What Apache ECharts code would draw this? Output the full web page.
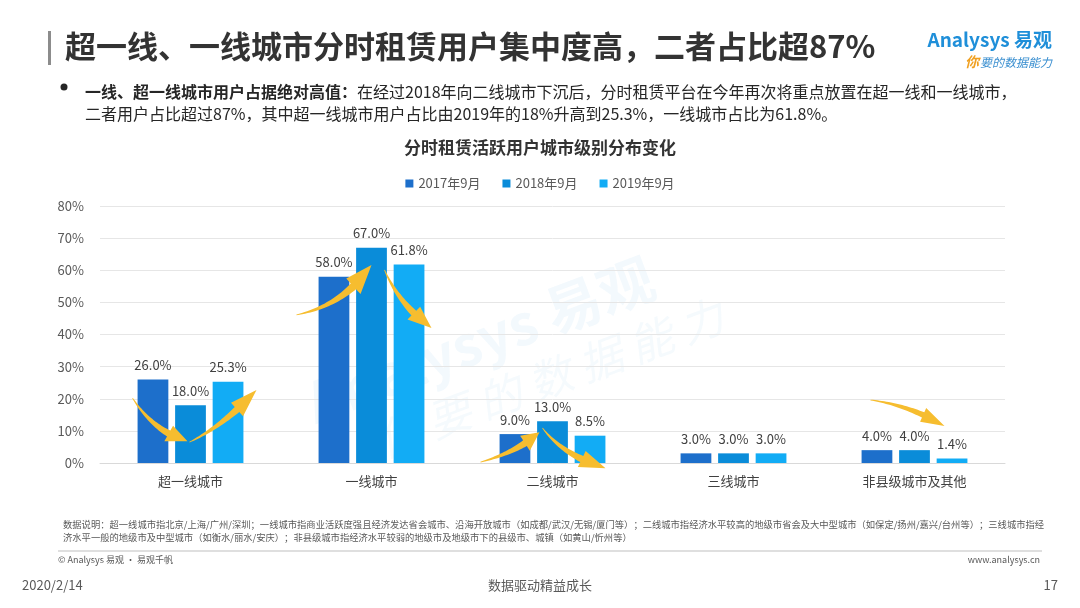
<!DOCTYPE html>
<html>
<head>
<meta charset="utf-8">
<script src="https://cdn.jsdelivr.net/npm/echarts@6/dist/echarts.min.js"></script>
<style>
  html, body { margin: 0; padding: 0; background: #fff; }
  #main { width: 1080px; height: 608px; }
</style>
</head>
<body>
<div id="main"></div>
<script>
// 数据
const categories = ['超一线城市', '一线城市', '二线城市', '三线城市', '非县级城市及其他']
const seriesNames = ['2017年9月', '2018年9月', '2019年9月']
const data2017 = [26.0, 58.0, 9.0, 3.0, 4.0]
const data2018 = [18.0, 67.0, 13.0, 3.0, 4.0]
const data2019 = [25.3, 61.8, 8.5, 3.0, 1.4]
const colors = ['#1d6fcb', '#0a8cd9', '#12acf5']

const FONT = '"Noto Sans CJK SC", "Microsoft YaHei", sans-serif'

let myChart = echarts.init(document.querySelector('#main'))

function barSeries(name, data, color) {
    return {
        name: name,
        type: 'bar',
        data: data,
        barWidth: '17%',
        barGap: '22%',
        itemStyle: { color: color },
        label: {
            show: true,
            position: 'top',
            distance: 8,
            formatter: p => p.value.toFixed(1) + '%',
            color: '#404040',
            fontSize: 13,
            fontFamily: FONT
        }
    }
}

const option = {
    animation: false,
    textStyle: { fontFamily: FONT },
    title: [
        {
            text: '超一线、一线城市分时租赁用户集中度高，二者占比超87%',
            left: 60, top: 26,
            textStyle: { fontSize: 31, fontWeight: 'bold', color: '#333', fontFamily: FONT }
        },
        {
            text: '{b|一线、超一线城市用户占据绝对高值：}{n|在经过2018年向二线城市下沉后，分时租赁平台在今年再次将重点放置在超一线和一线城市，}\n{n|二者用户占比超过87%，其中超一线城市用户占比由2019年的18%升高到25.3%，一线城市占比为61.8%。}',
            left: 80, top: 76,
            textStyle: {
                fontWeight: 'normal',
                rich: {
                    b: { fontSize: 16, fontWeight: 'bold', color: '#262626', fontFamily: FONT, lineHeight: 22 },
                    n: { fontSize: 16, fontWeight: 'normal', color: '#262626', fontFamily: FONT, lineHeight: 22 }
                }
            }
        },
        {
            text: '分时租赁活跃用户城市级别分布变化',
            left: 'center', top: 134,
            textStyle: { fontSize: 17, fontWeight: 'bold', color: '#333', fontFamily: FONT }
        },
        {
            text: '数据说明：超一线城市指北京/上海/广州/深圳；一线城市指商业活跃度强且经济发达省会城市、沿海开放城市（如成都/武汉/无锡/厦门等）；二线城市指经济水平较高的地级市省会及大中型城市（如保定/扬州/嘉兴/台州等）；三线城市指经\n济水平一般的地级市及中型城市（如衡水/丽水/安庆）；非县级城市指经济水平较弱的地级市及地级市下的县级市、城镇（如黄山/忻州等）',
            left: 58, top: 513,
            textStyle: { fontSize: 9.3, color: '#595959', fontFamily: FONT, lineHeight: 13, fontWeight: 'normal' }
        }
    ],
    legend: {
        data: seriesNames,
        top: 172,
        left: 'center',
        icon: 'rect',
        itemWidth: 8,
        itemHeight: 8,
        itemGap: 22,
        textStyle: { fontSize: 13, color: '#595959', fontFamily: FONT }
    },
    grid: {
        left: 100,
        right: 75,
        top: 206,
        bottom: 145
    },
    xAxis: {
        type: 'category',
        data: categories,
        axisTick: { show: false },
        axisLine: { lineStyle: { color: '#d9d9d9' } },
        axisLabel: { color: '#404040', fontSize: 13, margin: 12, fontFamily: FONT }
    },
    yAxis: {
        type: 'value',
        min: 0,
        max: 80,
        interval: 10,
        axisLabel: { formatter: '{value}%', color: '#595959', fontSize: 13, margin: 16, fontFamily: FONT },
        splitLine: { lineStyle: { color: '#e6e6e6' } },
        axisLine: { show: false },
        axisTick: { show: false }
    },
    series: [
        barSeries(seriesNames[0], data2017, colors[0]),
        barSeries(seriesNames[1], data2018, colors[1]),
        barSeries(seriesNames[2], data2019, colors[2])
    ]
}

myChart.setOption(option)

// 黄色箭头：[类目, 起点dx, 起点值, 控制dx, 控制值, 终点dx, 终点值, 宽]
const arrows = [
    [0, -58, 20.2, -36, 9.6, -3, 6.8, 6],
    [0, -1, 6.5, 34, 11.8, 66, 22.7, 6],
    [1, -75, 46.1, -27, 49.2, 0, 61.6, 7],
    [1, 13, 60.1, 28, 49.2, 60, 42.0, 6],
    [2, -72, 0.3, -35, 3.4, -13, 9.6, 6],
    [2, -10, 10.9, 10, 2.5, 53, -1.6, 6],
    [4, -44, 19.6, -5, 18.0, 30, 11.5, 5]
]

function toPx(cat, dx, val) {
    const p = myChart.convertToPixel({ gridIndex: 0 }, [cat, val])
    return [p[0] + dx, p[1]]
}

function arrowPoints(p0, c, p1, w) {
    const bez = t => [
        (1 - t) * (1 - t) * p0[0] + 2 * (1 - t) * t * c[0] + t * t * p1[0],
        (1 - t) * (1 - t) * p0[1] + 2 * (1 - t) * t * c[1] + t * t * p1[1]
    ]
    const der = t => [
        2 * (1 - t) * (c[0] - p0[0]) + 2 * t * (p1[0] - c[0]),
        2 * (1 - t) * (c[1] - p0[1]) + 2 * t * (p1[1] - c[1])
    ]
    const tHead = 0.7
    const N = 24
    const left = [], right = []
    let last, nrm
    for (let i = 0; i <= N; i++) {
        const t = tHead * i / N
        const pt = bez(t)
        const d = der(t)
        const len = Math.hypot(d[0], d[1]) || 1
        nrm = [-d[1] / len, d[0] / len]
        const hw = 0.4 + w * 0.5 * (i / N)
        left.push([pt[0] + nrm[0] * hw, pt[1] + nrm[1] * hw])
        right.push([pt[0] - nrm[0] * hw, pt[1] - nrm[1] * hw])
        last = pt
    }
    const hw2 = w * 1.5
    const head = [
        [last[0] + nrm[0] * hw2, last[1] + nrm[1] * hw2],
        p1,
        [last[0] - nrm[0] * hw2, last[1] - nrm[1] * hw2]
    ]
    return left.concat(head, right.reverse())
}

const graphics = []

// 水印
graphics.push({
    type: 'text', x: 480, y: 340, rotation: 0.36, silent: true, z: -1,
    style: { text: 'Analysys 易观', font: 'bold 56px ' + FONT, fill: 'rgba(20,140,215,0.05)', textAlign: 'center', textVerticalAlign: 'middle' }
})
graphics.push({
    type: 'text', x: 550, y: 378, rotation: 0.36, silent: true, z: -1,
    style: { text: '你 要 的 数 据 能 力', font: 'italic 44px ' + FONT, fill: 'rgba(20,140,215,0.045)', textAlign: 'center', textVerticalAlign: 'middle' }
})

arrows.forEach(a => {
    const p0 = toPx(a[0], a[1], a[2])
    const c = toPx(a[0], a[3], a[4])
    const p1 = toPx(a[0], a[5], a[6])
    graphics.push({
        type: 'polygon',
        silent: true,
        z: 100,
        shape: { points: arrowPoints(p0, c, p1, a[7]) },
        style: { fill: '#f6bd2f' }
    })
})

// 标题左侧竖线
graphics.push({ type: 'rect', shape: { x: 48, y: 31, width: 3, height: 34 }, style: { fill: '#8c8c8c' } })
// 项目符号
graphics.push({ type: 'circle', shape: { cx: 64, cy: 87, r: 3.5 }, style: { fill: '#262626' } })

// Logo
graphics.push({
    type: 'text', x: 1052, y: 40,
    style: { text: 'Analysys 易观', font: 'bold 19px ' + FONT, fill: '#1f8fd9', textAlign: 'right', textVerticalAlign: 'middle' }
})
graphics.push({
    type: 'text', x: 1052, y: 62,
    style: { text: '要的数据能力', font: 'italic 12px ' + FONT, fill: '#3a8fd0', textAlign: 'right', textVerticalAlign: 'middle' }
})
graphics.push({
    type: 'text', x: 979, y: 62,
    style: { text: '你', font: 'italic bold 14px ' + FONT, fill: '#f0a020', textAlign: 'right', textVerticalAlign: 'middle' }
})

// 页脚
graphics.push({ type: 'line', shape: { x1: 58, y1: 551, x2: 1042, y2: 551 }, style: { stroke: '#bfbfbf', lineWidth: 1 } })
graphics.push({
    type: 'text', x: 58, y: 560,
    style: { text: '© Analysys 易观 · 易观千帆', font: '9px ' + FONT, fill: '#595959', textVerticalAlign: 'middle' }
})
graphics.push({
    type: 'text', x: 1040, y: 560,
    style: { text: 'www.analysys.cn', font: '9px ' + FONT, fill: '#595959', textAlign: 'right', textVerticalAlign: 'middle' }
})
graphics.push({
    type: 'text', x: 22, y: 585,
    style: { text: '2020/2/14', font: '13px ' + FONT, fill: '#595959', textVerticalAlign: 'middle' }
})
graphics.push({
    type: 'text', x: 540, y: 585,
    style: { text: '数据驱动精益成长', font: '13px ' + FONT, fill: '#595959', textAlign: 'center', textVerticalAlign: 'middle' }
})
graphics.push({
    type: 'text', x: 1058, y: 585,
    style: { text: '17', font: '13px ' + FONT, fill: '#595959', textAlign: 'right', textVerticalAlign: 'middle' }
})

myChart.setOption({ graphic: graphics })
</script>
</body>
</html>
